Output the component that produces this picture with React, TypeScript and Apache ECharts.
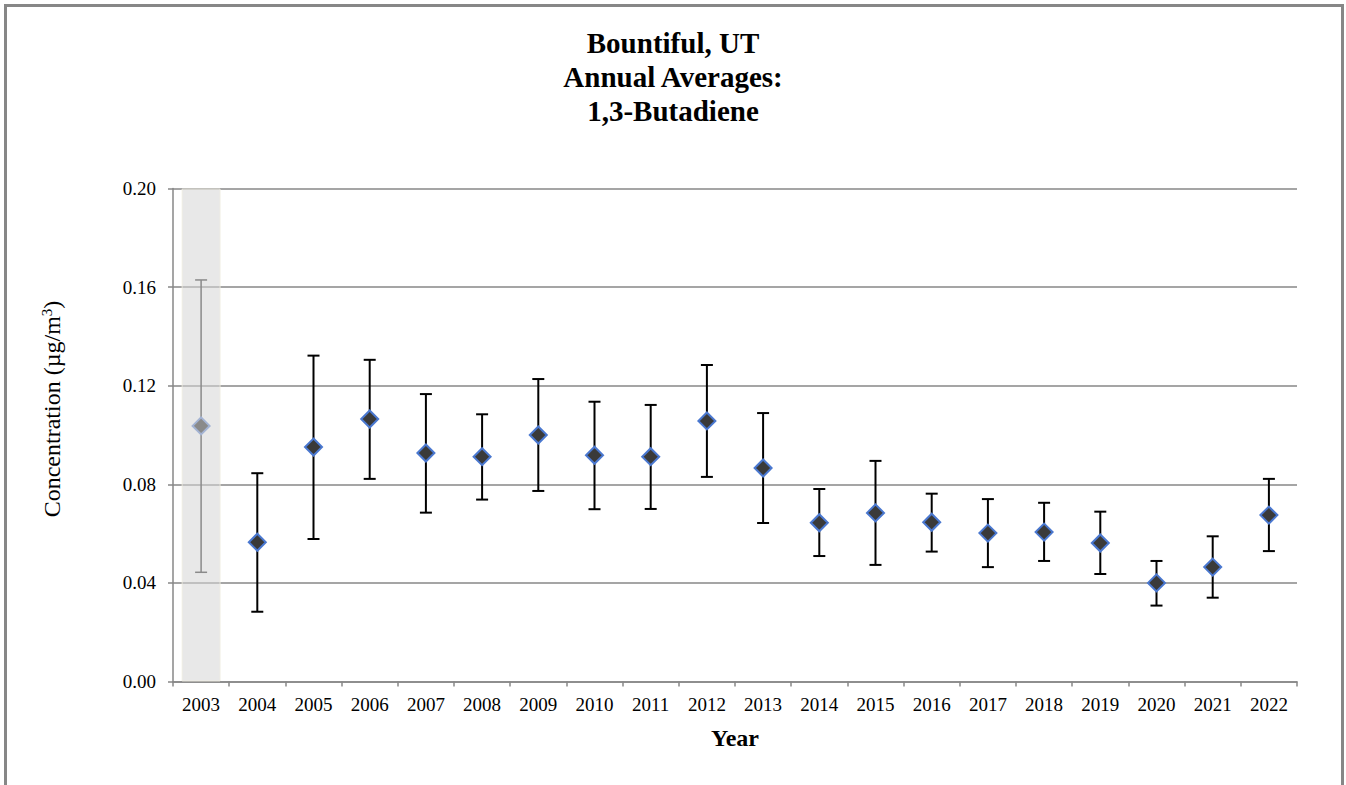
import React, { useEffect, useRef } from "react";
import * as echarts from "echarts";

const years = ["2003","2004","2005","2006","2007","2008","2009","2010","2011","2012","2013","2014","2015","2016","2017","2018","2019","2020","2021","2022"];
const means = [0.1037,0.0565,0.0951,0.1065,0.0927,0.0912,0.1000,0.0918,0.0912,0.1057,0.0866,0.0644,0.0684,0.0646,0.0602,0.0606,0.0562,0.0400,0.0464,0.0675];
const lowers = [0.0443,0.0283,0.0578,0.0822,0.0685,0.0738,0.0773,0.0699,0.0700,0.0830,0.0643,0.0509,0.0473,0.0527,0.0464,0.0489,0.0436,0.0308,0.0340,0.0529];
const uppers = [0.1629,0.0845,0.1322,0.1305,0.1166,0.1084,0.1227,0.1135,0.1122,0.1284,0.1089,0.0781,0.0895,0.0762,0.0740,0.0725,0.0689,0.0489,0.0589,0.0822];
const highlightedYears = ["2003"];
const yTicks = { min: 0, max: 0.2, interval: 0.04 };

const SERIF = "'Liberation Serif', 'Times New Roman', serif";

export default function App() {
  const ref = useRef<HTMLDivElement>(null);
  useEffect(() => {
    if (!ref.current) return;
    const chart = echarts.init(ref.current, null, { renderer: "svg" });
    const bandData = years.map((y) => (highlightedYears.includes(y) ? yTicks.max : null));
    const errData = years.map((_, i) => [i, lowers[i], uppers[i]]);
    const scatterData = years.map((y, i) =>
      highlightedYears.includes(y)
        ? { value: [i, means[i]], itemStyle: { color: "#8a8a8a", borderColor: "#a3b3d3" } }
        : { value: [i, means[i]] }
    );
    chart.setOption({
      animation: false,
      backgroundColor: "#ffffff",
      graphic: [
        {
          type: "rect",
          shape: { x: 5.5, y: 5.5, width: 1337, height: 900 },
          style: { fill: "none", stroke: "#878787", lineWidth: 3 },
          silent: true,
        },
        {
          type: "text",
          x: 673,
          y: 26,
          style: {
            text: "Bountiful, UT\nAnnual Averages:\n1,3-Butadiene",
            fontFamily: SERIF,
            fontSize: 29,
            fontWeight: "bold",
            fill: "#000",
            lineHeight: 34,
            align: "center",
            verticalAlign: "top",
          },
        },
        {
          type: "text",
          x: 52,
          y: 409,
          rotation: Math.PI / 2,
          style: {
            text: "Concentration (µg/m{sup|3})",
            fontFamily: SERIF,
            fontSize: 24,
            fill: "#000",
            align: "center",
            verticalAlign: "middle",
            rich: {
              sup: { fontFamily: SERIF, fontSize: 15, fill: "#000", verticalAlign: "bottom", padding: [0, 0, 10, 0] },
            },
          },
        },
      ],
      grid: { left: 173, right: 49, top: 188.5, bottom: 103.5 },
      xAxis: {
        type: "category",
        data: years,
        boundaryGap: true,
        name: "Year",
        nameLocation: "middle",
        nameGap: 44,
        nameTextStyle: { fontFamily: SERIF, fontSize: 24, fontWeight: "bold", color: "#000", verticalAlign: "top" },
        axisLine: { show: true, lineStyle: { color: "#878787", width: 1.5 } },
        axisTick: { show: true, alignWithLabel: false, length: 5, lineStyle: { color: "#878787", width: 1.5 } },
        axisLabel: { fontFamily: SERIF, fontSize: 19, color: "#000", margin: 13, interval: 0 },
        splitLine: { show: false },
      },
      yAxis: {
        type: "value",
        min: yTicks.min,
        max: yTicks.max,
        interval: yTicks.interval,
        axisLine: { show: true, lineStyle: { color: "#878787", width: 1.5 } },
        axisTick: { show: true, length: 5, lineStyle: { color: "#878787", width: 1.5 } },
        axisLabel: {
          fontFamily: SERIF,
          fontSize: 19,
          color: "#000",
          margin: 17,
          formatter: (v: number) => v.toFixed(2),
        },
        splitLine: { show: true, lineStyle: { color: "#878787", width: 1.5 } },
      },
      series: [
        {
          type: "bar",
          data: bandData,
          barWidth: 39,
          itemStyle: { color: "rgba(214,214,214,0.56)", borderColor: "rgba(240,238,225,0.8)", borderWidth: 1 },
          z: 3,
          silent: true,
        },
        {
          type: "custom",
          data: errData,
          encode: { x: 0, y: [1, 2] },
          z: 4,
          renderItem: (params: any, api: any) => {
            const i = api.value(0);
            const lo = api.coord([i, api.value(1)]);
            const hi = api.coord([i, api.value(2)]);
            const hl = highlightedYears.includes(years[i]);
            const color = hl ? "#8a8a8a" : "#000";
            const lw = hl ? 1.5 : 2;
            const half = 6;
            return {
              type: "group",
              children: [
                { type: "line", shape: { x1: lo[0], y1: lo[1], x2: hi[0], y2: hi[1] }, style: { stroke: color, lineWidth: lw } },
                { type: "line", shape: { x1: hi[0] - half, y1: hi[1], x2: hi[0] + half, y2: hi[1] }, style: { stroke: color, lineWidth: lw } },
                { type: "line", shape: { x1: lo[0] - half, y1: lo[1], x2: lo[0] + half, y2: lo[1] }, style: { stroke: color, lineWidth: lw } },
              ],
            };
          },
        },
        {
          type: "scatter",
          data: scatterData,
          symbol: "diamond",
          symbolSize: 17,
          z: 5,
          itemStyle: { color: "#3a3a3a", borderColor: "#4a78d0", borderWidth: 2, opacity: 1 },
        },
      ],
    });
    return () => chart.dispose();
  }, []);
  return (
    <div
      ref={ref}
      style={{ position: "fixed", left: 0, top: 0, width: 1346, height: 785, background: "#fff" }}
    />
  );
}
